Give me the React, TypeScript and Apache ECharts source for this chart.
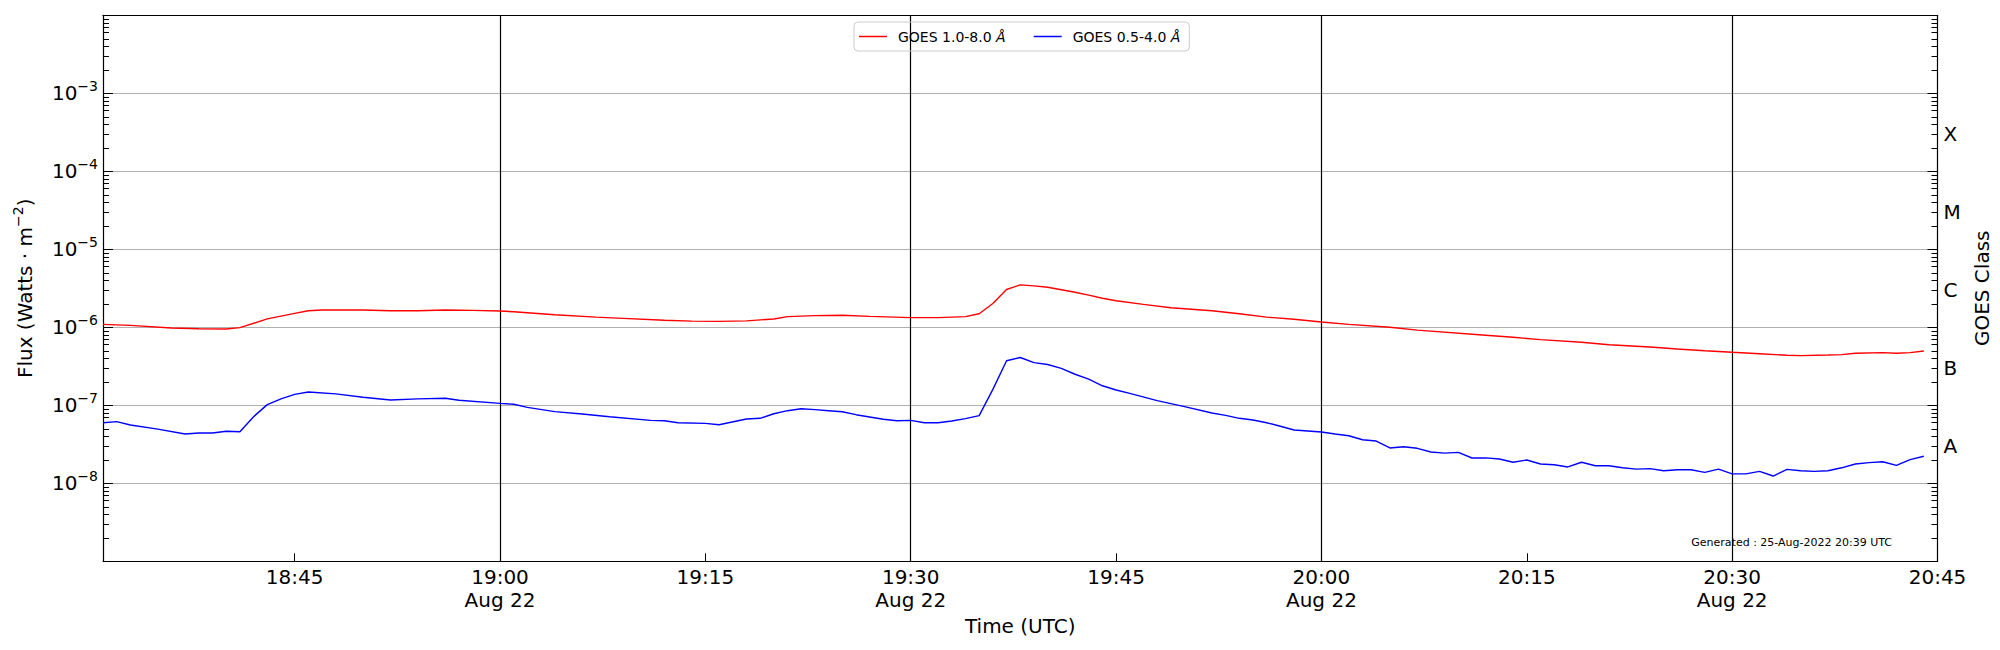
import React, { useEffect, useRef } from 'react';
import * as echarts from 'echarts';

const FONT = "'DejaVu Sans', Verdana, sans-serif";

const seriesNames = ['GOES 1.0-8.0 Å', 'GOES 0.5-4.0 Å'];
const seriesColors = ['#ff0000', '#0000ff'];

// GOES 1.0-8.0 Å  [time UTC, flux W/m²]
const longChannel: [string, number][] = [
  ['18:31', 1.09e-6], ['18:33', 1.06e-6], ['18:36', 0.98e-6], ['18:38', 0.96e-6], ['18:40', 0.95e-6],
  ['18:41', 0.99e-6], ['18:43', 1.28e-6], ['18:45', 1.51e-6], ['18:46', 1.63e-6], ['18:47', 1.67e-6],
  ['18:50', 1.67e-6], ['18:52', 1.63e-6], ['18:54', 1.63e-6], ['18:56', 1.67e-6], ['18:58', 1.65e-6],
  ['19:00', 1.62e-6], ['19:01', 1.58e-6], ['19:04', 1.45e-6], ['19:07', 1.35e-6], ['19:09', 1.30e-6],
  ['19:12', 1.23e-6], ['19:14', 1.20e-6], ['19:16', 1.19e-6], ['19:18', 1.21e-6], ['19:20', 1.28e-6],
  ['19:21', 1.37e-6], ['19:23', 1.41e-6], ['19:25', 1.43e-6], ['19:27', 1.38e-6], ['19:30', 1.33e-6],
  ['19:32', 1.33e-6], ['19:34', 1.37e-6], ['19:35', 1.49e-6], ['19:36', 2.02e-6], ['19:37', 3.05e-6],
  ['19:38', 3.50e-6], ['19:39', 3.40e-6], ['19:40', 3.26e-6], ['19:41', 3.03e-6], ['19:42', 2.81e-6],
  ['19:43', 2.59e-6], ['19:44', 2.36e-6], ['19:45', 2.19e-6], ['19:47', 1.97e-6], ['19:49', 1.78e-6],
  ['19:52', 1.63e-6], ['19:54', 1.49e-6], ['19:56', 1.35e-6], ['19:58', 1.27e-6], ['20:00', 1.17e-6],
  ['20:02', 1.09e-6], ['20:05', 1.00e-6], ['20:07', 0.92e-6], ['20:12', 0.79e-6], ['20:14', 0.745e-6],
  ['20:16', 0.694e-6], ['20:19', 0.642e-6], ['20:21', 0.598e-6], ['20:24', 0.558e-6], ['20:26', 0.527e-6],
  ['20:28', 0.501e-6], ['20:30', 0.478e-6], ['20:32', 0.459e-6], ['20:34', 0.438e-6], ['20:35', 0.433e-6],
  ['20:37', 0.441e-6], ['20:38', 0.446e-6], ['20:39', 0.464e-6], ['20:41', 0.473e-6], ['20:42', 0.464e-6],
  ['20:43', 0.473e-6], ['20:44', 0.496e-6],
];

// GOES 0.5-4.0 Å  [time UTC, flux W/m²]
const shortChannel: [string, number][] = [
  ['18:31', 5.98e-8], ['18:32', 6.17e-8], ['18:33', 5.59e-8], ['18:35', 4.95e-8], ['18:37', 4.28e-8],
  ['18:38', 4.41e-8], ['18:39', 4.41e-8], ['18:40', 4.64e-8], ['18:41', 4.59e-8], ['18:42', 7.15e-8],
  ['18:43', 1.02e-7], ['18:44', 1.21e-7], ['18:45', 1.38e-7], ['18:46', 1.48e-7], ['18:48', 1.40e-7],
  ['18:50', 1.27e-7], ['18:52', 1.17e-7], ['18:54', 1.21e-7], ['18:56', 1.23e-7], ['18:57', 1.16e-7],
  ['19:00', 1.06e-7], ['19:01', 1.03e-7], ['19:02', 9.4e-8], ['19:04', 8.3e-8], ['19:06', 7.73e-8],
  ['19:08', 7.14e-8], ['19:11', 6.41e-8], ['19:12', 6.35e-8], ['19:13', 5.98e-8], ['19:15', 5.87e-8],
  ['19:16', 5.64e-8], ['19:18', 6.67e-8], ['19:19', 6.81e-8], ['19:20', 7.80e-8], ['19:21', 8.53e-8],
  ['19:22', 9.04e-8], ['19:23', 8.79e-8], ['19:24', 8.53e-8], ['19:25', 8.28e-8], ['19:26', 7.58e-8],
  ['19:28', 6.62e-8], ['19:29', 6.35e-8], ['19:30', 6.41e-8], ['19:31', 5.98e-8], ['19:32', 5.98e-8],
  ['19:33', 6.29e-8], ['19:34', 6.75e-8], ['19:35', 7.36e-8], ['19:36', 1.60e-7], ['19:37', 3.73e-7],
  ['19:38', 4.10e-7], ['19:39', 3.52e-7], ['19:40', 3.33e-7], ['19:41', 2.98e-7], ['19:42', 2.50e-7],
  ['19:43', 2.16e-7], ['19:44', 1.78e-7], ['19:45', 1.57e-7], ['19:46', 1.42e-7], ['19:48', 1.15e-7],
  ['19:50', 9.6e-8], ['19:52', 7.96e-8], ['19:53', 7.43e-8], ['19:54', 6.81e-8], ['19:55', 6.48e-8],
  ['19:56', 5.98e-8], ['19:57', 5.38e-8], ['19:58', 4.82e-8], ['20:00', 4.55e-8], ['20:01', 4.28e-8],
  ['20:02', 4.07e-8], ['20:03', 3.62e-8], ['20:04', 3.48e-8], ['20:05', 2.84e-8], ['20:06', 2.94e-8],
  ['20:07', 2.81e-8], ['20:08', 2.52e-8], ['20:09', 2.44e-8], ['20:10', 2.49e-8], ['20:11', 2.11e-8],
  ['20:12', 2.12e-8], ['20:13', 2.05e-8], ['20:14', 1.86e-8], ['20:15', 1.99e-8], ['20:16', 1.77e-8],
  ['20:17', 1.73e-8], ['20:18', 1.62e-8], ['20:19', 1.86e-8], ['20:20', 1.68e-8], ['20:21', 1.68e-8],
  ['20:22', 1.58e-8], ['20:23', 1.52e-8], ['20:24', 1.54e-8], ['20:25', 1.45e-8], ['20:26', 1.49e-8],
  ['20:27', 1.49e-8], ['20:28', 1.38e-8], ['20:29', 1.52e-8], ['20:30', 1.32e-8], ['20:31', 1.32e-8],
  ['20:32', 1.42e-8], ['20:33', 1.24e-8], ['20:34', 1.51e-8], ['20:35', 1.45e-8], ['20:36', 1.42e-8],
  ['20:37', 1.45e-8], ['20:38', 1.58e-8], ['20:39', 1.77e-8], ['20:40', 1.84e-8], ['20:41', 1.89e-8],
  ['20:42', 1.70e-8], ['20:43', 2.01e-8], ['20:44', 2.22e-8],
];

const xStart = '18:31';
const xEnd = '20:45';
const xTickTimes = ['18:45', '19:00', '19:15', '19:30', '19:45', '20:00', '20:15', '20:30', '20:45'];
const dateLineTimes = ['19:00', '19:30', '20:00', '20:30'];
const dateLabel = 'Aug 22';

const yMin = 1e-9;
const yMax = 1e-2;
const yLabelExponents = [-3, -4, -5, -6, -7, -8];
const minorDecades = [-9, -8, -7, -6, -5, -4, -3];
const minorMultipliers = [2, 3, 4, 5, 6, 7, 8, 9];
const classLetters = ['X', 'M', 'C', 'B', 'A'];
const classLabelFlux = [3e-4, 3e-5, 3e-6, 3e-7, 3e-8];

const yTitle = 'Flux (Watts · m';
const yTitleExp = '−2';
const xTitle = 'Time (UTC)';
const rightTitle = 'GOES Class';
const generatedNote = 'Generated : 25-Aug-2022 20:39 UTC';

const toMs = (hhmm: string) => {
  const [h, m] = hhmm.split(':').map(Number);
  return Date.UTC(2022, 7, 22, h, m);
};
const pad2 = (n: number) => (n < 10 ? '0' + n : '' + n);

export default function App() {
  const ref = useRef<HTMLDivElement>(null);

  useEffect(() => {
    if (!ref.current) return;
    const chart = echarts.init(ref.current, undefined, { renderer: 'svg' });

    const xMin = toMs(xStart);
    const xMax = toMs(xEnd);
    const xTickVals = xTickTimes.map(toMs);
    const dateLineVals = dateLineTimes.map(toMs);
    const majorVals = yLabelExponents.map((e) => Math.pow(10, e));
    const minorVals: number[] = [];
    minorDecades.forEach((e) => minorMultipliers.forEach((k) => minorVals.push(k * Math.pow(10, e))));

    const xFormatter = (v: number) => {
      const d = new Date(v);
      const s = `${d.getUTCHours()}:${pad2(d.getUTCMinutes())}`;
      const withDate = dateLineVals.some((t) => Math.abs(t - v) < 1000);
      return withDate ? `${s}\n${dateLabel}` : s;
    };
    const logFormatter = (v: number) => {
      const e = Math.round(Math.log10(v));
      return `{b|10}{s|${e < 0 ? '−' : ''}${Math.abs(e)}}`;
    };
    const classFormatter = (v: number) => {
      const idx = classLabelFlux.findIndex((c) => Math.abs(Math.log10(c) - Math.log10(v)) < 0.02);
      return idx >= 0 ? classLetters[idx] : '';
    };

    const black = '#000000';
    const supRich = {
      b: { fontSize: 20, fontFamily: FONT, color: black },
      s: { fontSize: 14, fontFamily: FONT, color: black, padding: [0, 0, 14, 0] },
    };

    const logBase = {
      type: 'log',
      logBase: 10,
      min: yMin,
      max: yMax,
    };

    const option: any = {
      animation: false,
      backgroundColor: '#ffffff',
      textStyle: { fontFamily: FONT },
      grid: {
        left: 103,
        right: 62.5,
        top: 15.3,
        bottom: 88.7,
        containLabel: false,
        outerBoundsMode: 'none',
      },
      legend: {
        data: seriesNames.map((n) => ({ name: n, icon: 'rect' })),
        left: 854,
        top: 22,
        orient: 'horizontal',
        itemWidth: 28,
        itemHeight: 1.5,
        itemGap: 28,
        padding: [6, 9, 6, 5],
        borderColor: '#cccccc',
        borderWidth: 1,
        borderRadius: 4,
        backgroundColor: 'transparent',
        selectedMode: false,
        formatter: (n: string) => '{p|}' + n.replace('Å', '{i|Å}'),
        textStyle: {
          fontSize: 14,
          lineHeight: 17,
          color: black,
          fontFamily: FONT,
          rich: {
            p: { width: 6 },
            i: { fontSize: 14, fontStyle: 'italic', fontFamily: FONT, color: black },
          },
        },
      },
      graphic: [
        {
          type: 'text',
          right: 108,
          top: 537,
          z: 10,
          style: { text: generatedNote, fontSize: 11, fontFamily: FONT, fill: black },
        },
      ],
      xAxis: [
        {
          type: 'value',
          position: 'bottom',
          min: xMin,
          max: xMax,
          name: xTitle,
          nameLocation: 'middle',
          nameGap: 50,
          nameTextStyle: { fontSize: 20, color: black, fontFamily: FONT },
          axisLine: { show: true, onZero: false, lineStyle: { color: black, width: 1.2 } },
          axisTick: { show: true, inside: true, length: 8, customValues: xTickVals, lineStyle: { color: black, width: 1 } },
          axisLabel: {
            show: true,
            customValues: xTickVals,
            formatter: xFormatter,
            margin: 4,
            fontSize: 20,
            lineHeight: 23,
            color: black,
            fontFamily: FONT,
            hideOverlap: false,
          },
          splitLine: { show: false },
        },
        {
          type: 'value',
          position: 'top',
          min: xMin,
          max: xMax,
          axisLine: { show: true, onZero: false, lineStyle: { color: black, width: 1.2 } },
          axisTick: { show: false, customValues: dateLineVals },
          axisLabel: { show: false },
          splitLine: { show: true, lineStyle: { color: black, width: 1.2, type: 'solid' } },
        },
      ],
      yAxis: [
        {
          ...logBase,
          position: 'left',
          name: `{n|${yTitle}}{s|${yTitleExp}}{n|)}`,
          nameLocation: 'middle',
          nameRotate: 90,
          nameGap: 64,
          nameTextStyle: {
            fontSize: 20,
            color: black,
            fontFamily: FONT,
            rich: {
              n: { fontSize: 20, fontFamily: FONT, color: black },
              s: { fontSize: 14, fontFamily: FONT, color: black, padding: [0, 0, 14, 0] },
            },
          },
          axisLine: { show: true, onZero: false, lineStyle: { color: black, width: 1.2 } },
          axisTick: { show: true, inside: true, length: 10, customValues: majorVals, lineStyle: { color: black, width: 1 } },
          axisLabel: {
            show: true,
            customValues: majorVals,
            formatter: logFormatter,
            margin: 5,
            fontSize: 20,
            color: black,
            fontFamily: FONT,
            rich: supRich,
          },
          splitLine: { show: true, lineStyle: { color: '#b0b0b0', width: 1.1 } },
        },
        {
          ...logBase,
          position: 'left',
          axisLine: { show: false },
          axisTick: { show: true, inside: true, length: 6, customValues: minorVals, lineStyle: { color: black, width: 1 } },
          axisLabel: { show: false },
          splitLine: { show: false },
        },
        {
          ...logBase,
          position: 'right',
          name: rightTitle,
          nameLocation: 'middle',
          nameRotate: 90,
          nameGap: 28,
          nameTextStyle: { fontSize: 20, color: black, fontFamily: FONT },
          axisLine: { show: true, onZero: false, lineStyle: { color: black, width: 1.2 } },
          axisTick: { show: true, inside: true, length: 10, customValues: majorVals, lineStyle: { color: black, width: 1 } },
          axisLabel: {
            show: true,
            customValues: classLabelFlux,
            formatter: classFormatter,
            margin: 6,
            fontSize: 20,
            color: black,
            fontFamily: FONT,
          },
          splitLine: { show: false },
        },
        {
          ...logBase,
          position: 'right',
          axisLine: { show: false },
          axisTick: { show: true, inside: true, length: 6, customValues: minorVals, lineStyle: { color: black, width: 1 } },
          axisLabel: { show: false },
          splitLine: { show: false },
        },
      ],
      series: [
        {
          name: seriesNames[0],
          type: 'line',
          xAxisIndex: 0,
          yAxisIndex: 0,
          data: longChannel.map(([t, v]) => [toMs(t), v]),
          showSymbol: false,
          symbol: 'none',
          lineStyle: { color: seriesColors[0], width: 1.4 },
          itemStyle: { color: seriesColors[0] },
          z: 3,
        },
        {
          name: seriesNames[1],
          type: 'line',
          xAxisIndex: 0,
          yAxisIndex: 0,
          data: shortChannel.map(([t, v]) => [toMs(t), v]),
          showSymbol: false,
          symbol: 'none',
          lineStyle: { color: seriesColors[1], width: 1.4 },
          itemStyle: { color: seriesColors[1] },
          z: 3,
        },
      ],
    };

    chart.setOption(option);
    return () => chart.dispose();
  }, []);

  return (
    <div
      ref={ref}
      style={{ position: 'fixed', left: 0, top: 0, width: 2000, height: 650, background: '#ffffff' }}
    />
  );
}
